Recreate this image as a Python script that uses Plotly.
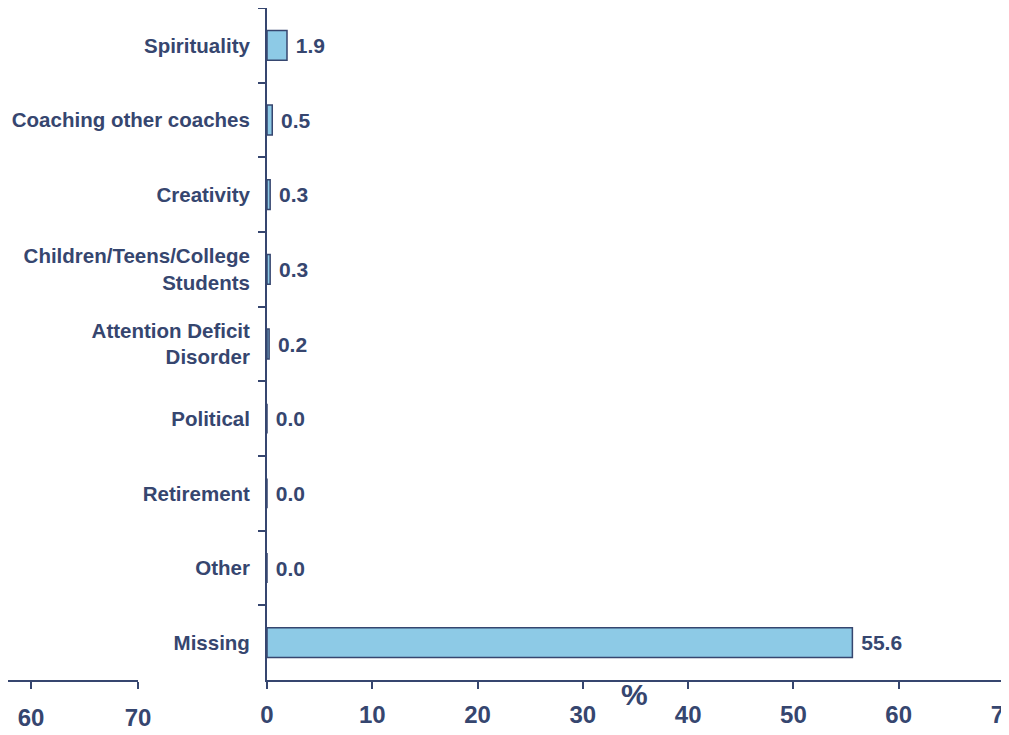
import plotly.graph_objects as go

categories = ["Spirituality", "Coaching other coaches", "Creativity",
              "Children/Teens/College<br>Students", "Attention Deficit<br>Disorder",
              "Political", "Retirement", "Other", "Missing"]
values = [1.9, 0.5, 0.3, 0.3, 0.2, 0.0, 0.0, 0.0, 55.6]
x_ticks = [0, 10, 20, 30, 40, 50, 60, 70]
frag_ticks = [60, 70]

navy = "#36466f"
fill = "#8dcae6"
font_family = "Arial, Liberation Sans, sans-serif"

W, H = 1009, 735
PLOT_H = 672  # page body adds an 8px offset, so the plot sits 8px up/left

fig = go.Figure()
fig.add_trace(go.Bar(
    x=values, y=categories, orientation="h",
    width=0.4,
    marker=dict(color=fill, line=dict(color=navy, width=1.5)),
    texttemplate=" %{x:.1f}", textposition="outside",
    textfont=dict(family=font_family, size=21, color=navy, weight="bold"),
    constraintext="none", cliponaxis=False,
    hoverinfo="skip",
))
# stray axis fragment from the neighbouring chart
fig.add_trace(go.Scatter(x=[None], y=[None], xaxis="x2", yaxis="y2",
                         showlegend=False, hoverinfo="skip"))

fig.update_layout(
    width=W, height=H,
    margin=dict(l=0, r=0, t=0, b=H - PLOT_H),
    plot_bgcolor="white", paper_bgcolor="white",
    showlegend=False,
    xaxis=dict(
        domain=[259 / W, 996 / W], range=[0, 70], automargin=False,
        tickvals=x_ticks, showgrid=False, zeroline=False,
        showline=True, linecolor=navy, linewidth=2,
        ticks="outside", ticklen=7, tickwidth=2, tickcolor=navy,
        tickfont=dict(family=font_family, size=24, color=navy, weight="bold"),
        ticklabelstandoff=5, ticklabeloverflow="allow",
    ),
    yaxis=dict(
        categoryorder="array", categoryarray=categories, autorange="reversed",
        automargin=False,
        showgrid=False, zeroline=False,
        showline=True, linecolor=navy, linewidth=2,
        ticks="outside", tickson="boundaries", ticklen=7, tickwidth=2, tickcolor=navy,
        tickfont=dict(family=font_family, size=20.5, color=navy, weight="bold"),
        ticklabelstandoff=11,
    ),
    xaxis2=dict(
        domain=[0, 130 / W], range=[57.85, 70], anchor="y2", automargin=False,
        tickvals=frag_ticks, showgrid=False, zeroline=False,
        showline=True, linecolor=navy, linewidth=2,
        ticks="outside", ticklen=7, tickwidth=2, tickcolor=navy,
        tickfont=dict(family=font_family, size=24, color=navy, weight="bold"),
        ticklabelstandoff=8, ticklabeloverflow="allow",
    ),
    yaxis2=dict(domain=[0, 1], anchor="x2", visible=False),
    annotations=[dict(
        text="%", x=626 / W, y=-14 / PLOT_H, xref="paper", yref="paper",
        xanchor="center", yanchor="middle", showarrow=False,
        font=dict(family=font_family, size=30, color=navy, weight="bold"),
    )],
)

fig.write_html("out.html")
